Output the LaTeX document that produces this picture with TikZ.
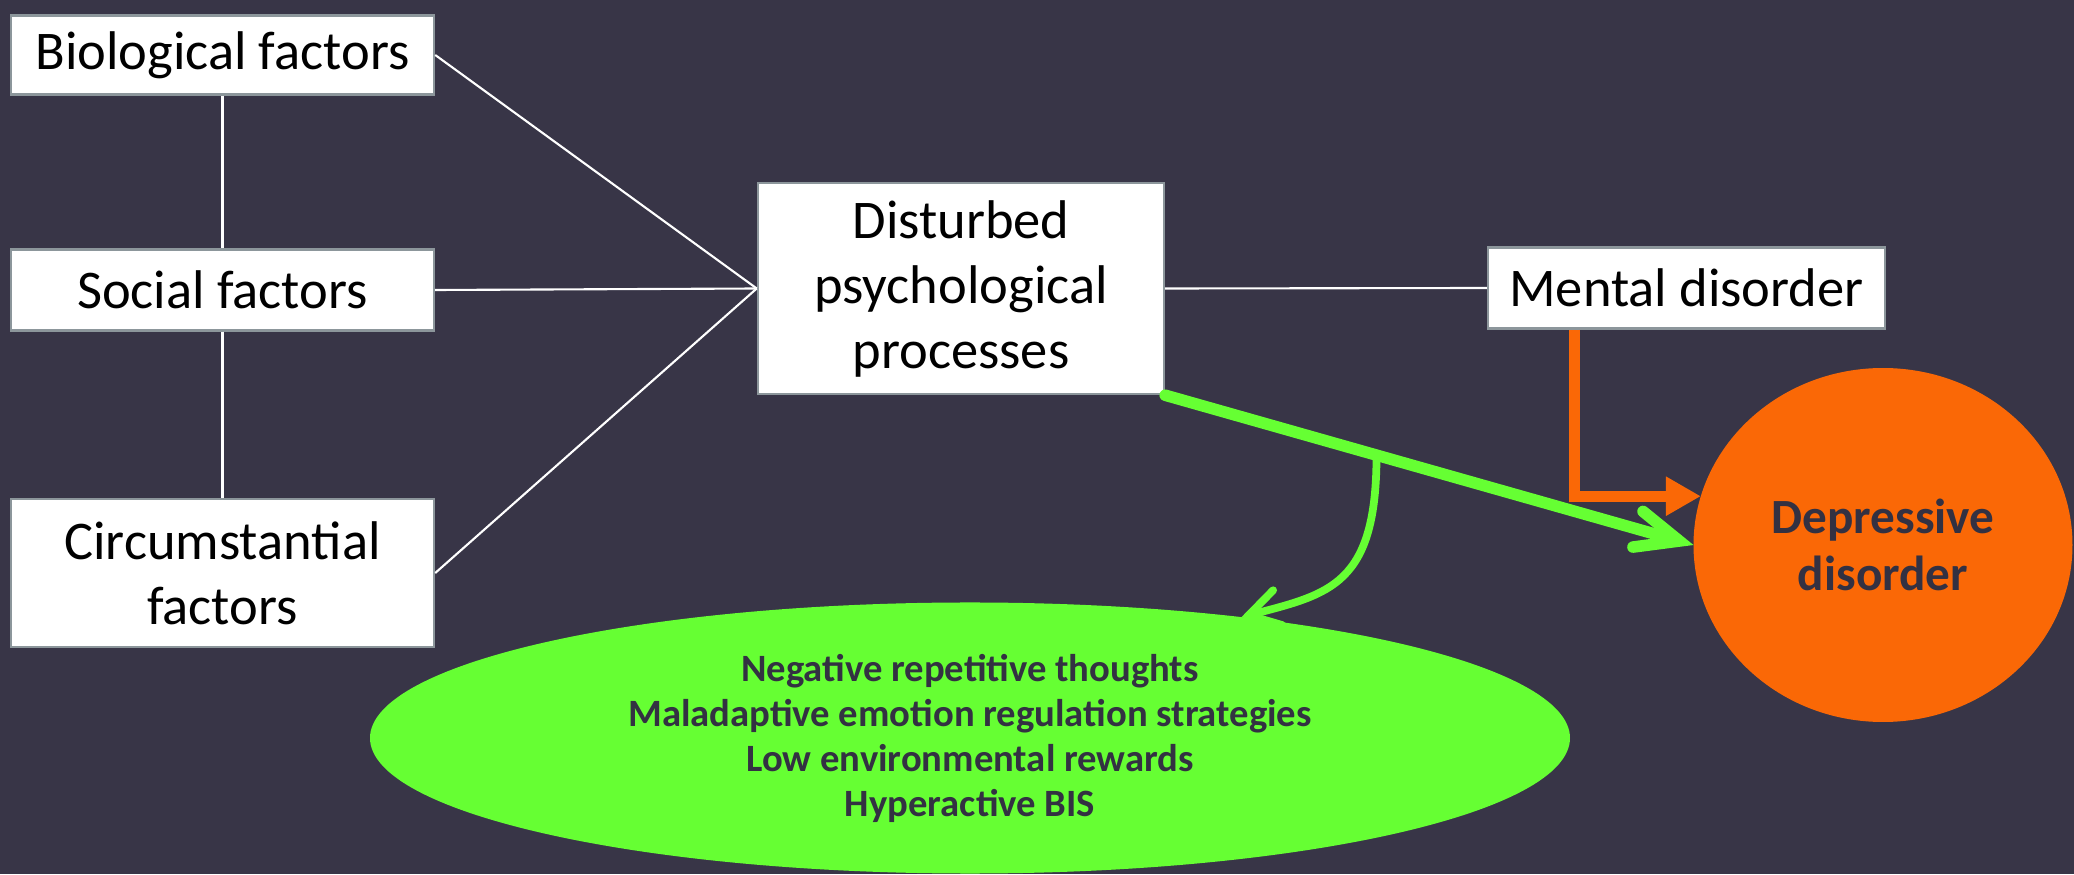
\documentclass[tikz,border=0pt]{standalone}
\usepackage{fontspec}
\setmainfont{Carlito}
\usetikzlibrary{shapes.geometric,arrows.meta,calc}
\definecolor{bgdark}{RGB}{56,53,71}
\definecolor{boxline}{RGB}{140,150,155}
\definecolor{limegreen}{RGB}{102,255,51}
\definecolor{deporange}{RGB}{250,104,6}
\definecolor{darktext}{RGB}{51,49,66}
\begin{document}
\begin{tikzpicture}[
		factor/.style={draw=boxline, fill=white, line width=0.7pt, inner sep=0pt, align=center,
			font=\fontsize{15.5}{18.5}\selectfont},
		link/.style={white, line width=0.6pt},
		greenarrow/.style={limegreen, line width=3.3pt, line cap=round,
			-{Straight Barb[length=4.3mm, width=3.7mm, line cap=round]}},
		orangearrow/.style={deporange, line width=3.1pt, -{Triangle[length=3.5mm, width=3.7mm]}}]
		\fill[bgdark] (0,0) rectangle (20.74,8.74);
		\useasboundingbox (0,0) rectangle (20.74,8.74);
		
		\node[factor, minimum width=4.23cm, minimum height=0.79cm] (bio) at (2.225,8.19) {Biological factors};
		\node[factor, minimum width=4.23cm, minimum height=0.81cm] (soc) at (2.225,5.84) {Social factors};
		\node[factor, minimum width=4.23cm, minimum height=1.48cm] (circ) at (2.225,3.01) {Circumstantial\\factors};
		\node[factor, minimum width=4.06cm, minimum height=2.11cm] (dist) at (9.61,5.855) {Disturbed\\psychological\\processes};
		\node[factor, minimum width=3.97cm, minimum height=0.81cm] (ment) at (16.865,5.86) {Mental disorder};
		
		\node[ellipse, fill=deporange, minimum width=3.79cm, minimum height=3.54cm, outer sep=0pt,
			align=center, text=darktext, font=\bfseries\fontsize{14}{16}\selectfont] (dep) at (18.83,3.29) {Depressive\\disorder};
		\node[ellipse, fill=limegreen, minimum width=12.0cm, minimum height=2.66cm, outer sep=0pt,
			align=center, text=darktext, font=\bfseries\fontsize{11}{12.8}\selectfont] (neg) at (9.70,1.36)
			{Negative repetitive thoughts\\Maladaptive emotion regulation strategies\\Low environmental rewards\\Hyperactive BIS};
		
		\draw[link] (bio) -- (soc) -- (circ);
		\draw[link] (bio.east) -- (dist.west);
		\draw[link] (soc.east) -- (dist.west);
		\draw[link] (circ.east) -- (dist.west);
		\draw[link] (dist.east) -- (ment.west);
		
		\draw[greenarrow] (dist.south east) -- (dep.west);
		\coordinate (br) at ($(dist.south east)!0.4!(dep.west)$);
		\draw[greenarrow, line width=2.2pt, -{Straight Barb[length=3mm, width=3.6mm, line cap=round]}]
			(br) .. controls ++(0,-1.3) and (13.3,2.8) .. (neg.24);
		\draw[orangearrow] ([xshift=0.88cm]ment.south west) |- (dep.165);
	\end{tikzpicture}
\end{document}
